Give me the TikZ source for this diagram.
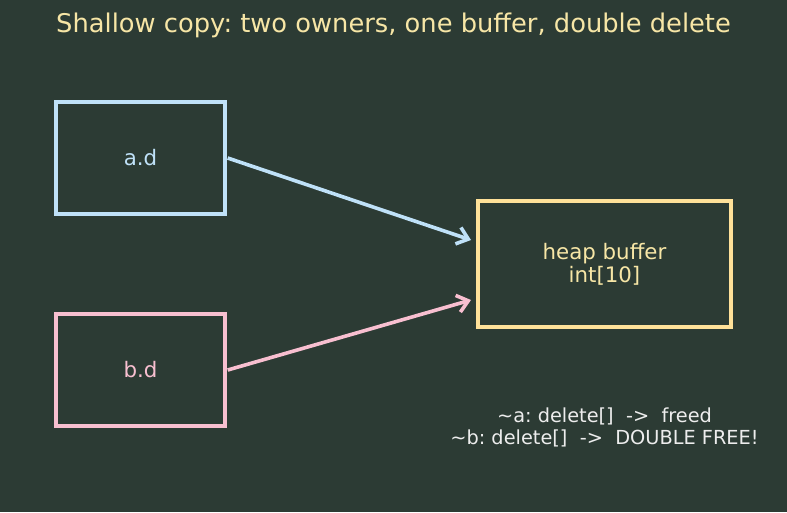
\documentclass[tikz,border=0pt]{standalone}
\usepackage{fontspec}
\setmainfont{DejaVu Sans}
\usetikzlibrary{arrows.meta}
\definecolor{bg}{HTML}{2C3B34}
\definecolor{cblue}{HTML}{BFE1F8}
\definecolor{cpink}{HTML}{F8BFD0}
\definecolor{cyel}{HTML}{FFE199}
\definecolor{ctitle}{HTML}{F7E6A6}
\definecolor{cnote}{HTML}{EDEDED}
\frenchspacing
\begin{document}
\begin{tikzpicture}[x=0.75pt,y=-0.75pt,
  box/.style={draw, line width=3pt, fill=bg, inner sep=0pt, outer sep=0pt, anchor=north west},
  lbl/.style={font=\fontsize{16}{19}\selectfont, align=center},
  conn/.style={line width=2.7pt, -{Straight Barb[length=8pt,width=13pt,line width=2.7pt]}},
]
\fill[bg] (0,0) rectangle (787,512);
\useasboundingbox (0,0) rectangle (787,512);
\node[font=\fontsize{19.3}{23}\selectfont, text=ctitle] (title) at (393.5,25) {Shallow copy: two owners, one buffer, double delete};
\node[box, draw=cblue, minimum width=169*0.75pt, minimum height=112*0.75pt] (a) at (56,102) {};
\node[lbl, text=cblue] (alab) at (a.center) {a.d};
\node[box, draw=cpink, minimum width=169*0.75pt, minimum height=112*0.75pt] (b) at (56,314) {};
\node[lbl, text=cpink] (blab) at (b.center) {b.d};
\node[box, draw=cyel, minimum width=253*0.75pt, minimum height=126*0.75pt] (h) at (478,201) {};
\node[lbl, text=ctitle, font=\fontsize{16}{17.5}\selectfont] (hlab) at (h.center) {heap buffer\\int[10]};
\coordinate (ta) at (471,240);
\coordinate (tb) at (471,300);
\draw[conn, draw=cblue] ([xshift=2pt]a.east) -- (ta);
\draw[conn, draw=cpink] ([xshift=2pt]b.east) -- (tb);
\node[font=\fontsize{14.5}{16.5}\selectfont, text=cnote, align=center] (notes) at (604.5,427) {\textasciitilde a: delete[]\ \ ->\ \ freed\\\textasciitilde b: delete[]\ \ ->\ \ DOUBLE FREE!};
\end{tikzpicture}
\end{document}
